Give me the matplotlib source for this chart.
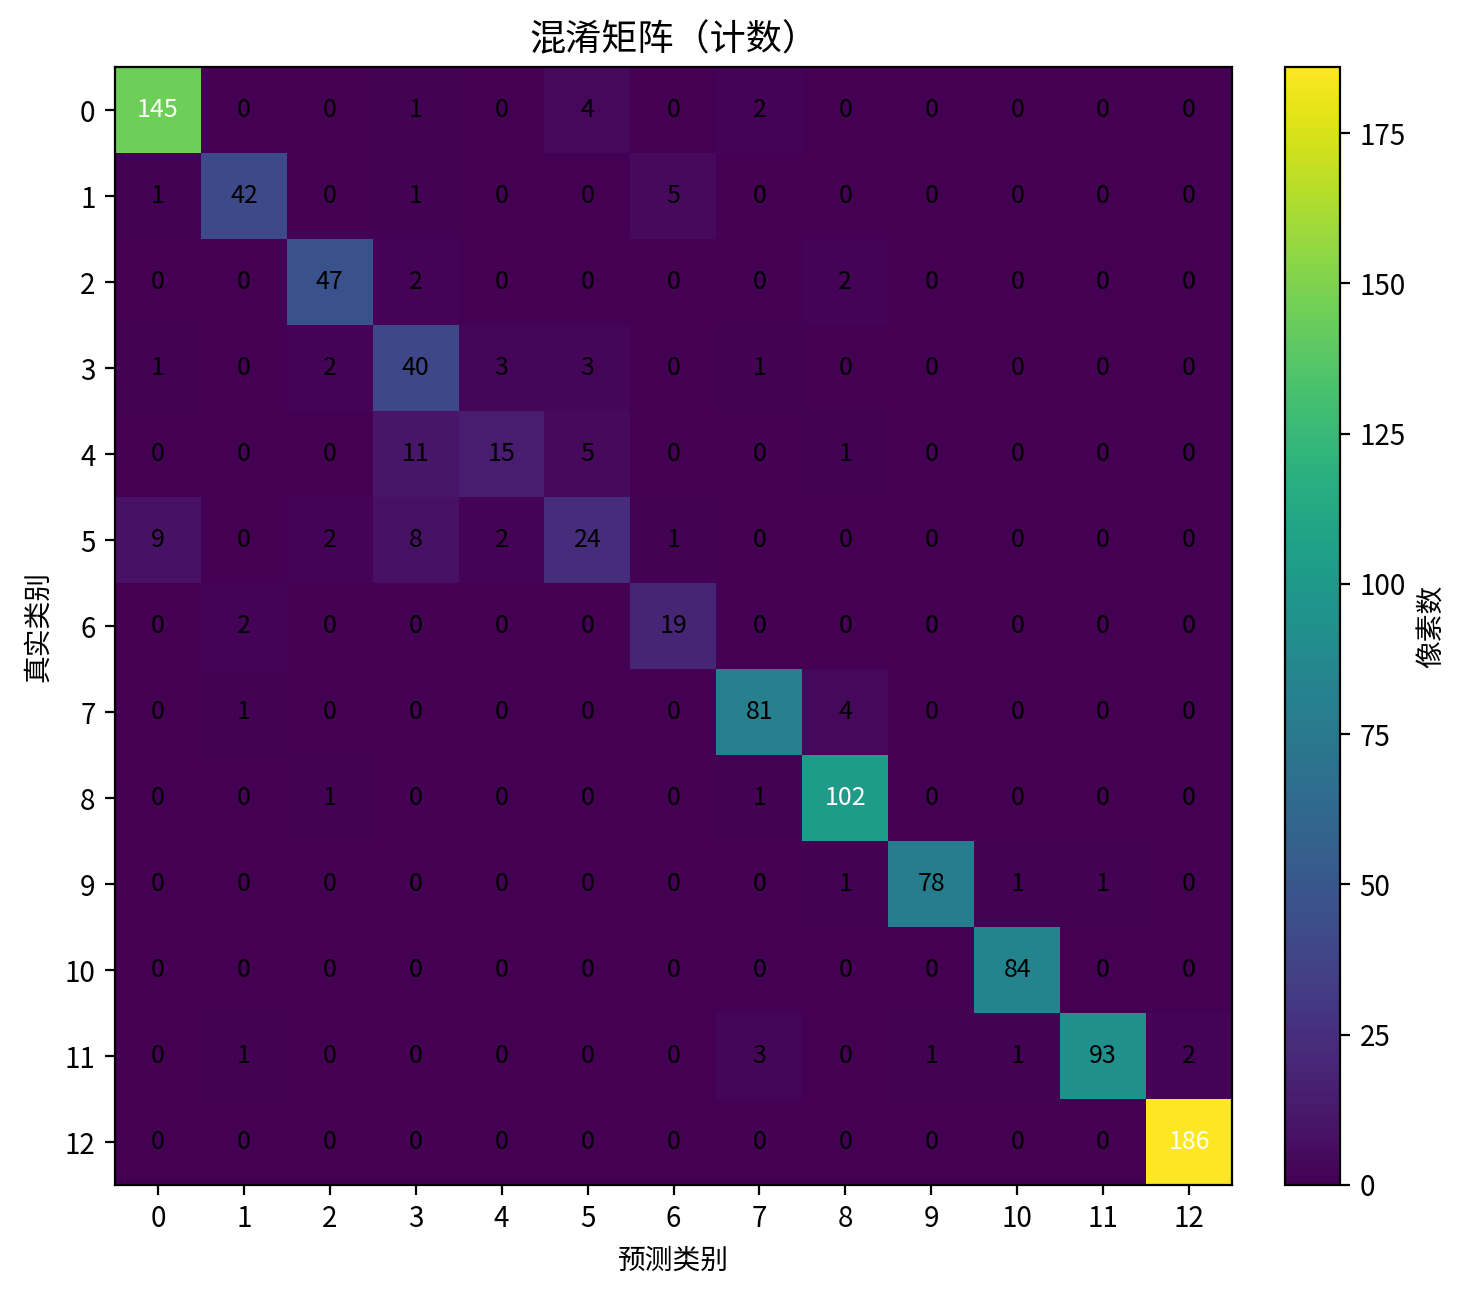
import numpy as np
import matplotlib.pyplot as plt

plt.rcParams['font.family'] = ['Noto Sans CJK SC', 'DejaVu Sans']
plt.rcParams['axes.unicode_minus'] = False

classes = list(range(13))
cm = np.array([
    [145, 0, 0, 1, 0, 4, 0, 2, 0, 0, 0, 0, 0],
    [1, 42, 0, 1, 0, 0, 5, 0, 0, 0, 0, 0, 0],
    [0, 0, 47, 2, 0, 0, 0, 0, 2, 0, 0, 0, 0],
    [1, 0, 2, 40, 3, 3, 0, 1, 0, 0, 0, 0, 0],
    [0, 0, 0, 11, 15, 5, 0, 0, 1, 0, 0, 0, 0],
    [9, 0, 2, 8, 2, 24, 1, 0, 0, 0, 0, 0, 0],
    [0, 2, 0, 0, 0, 0, 19, 0, 0, 0, 0, 0, 0],
    [0, 1, 0, 0, 0, 0, 0, 81, 4, 0, 0, 0, 0],
    [0, 0, 1, 0, 0, 0, 0, 1, 102, 0, 0, 0, 0],
    [0, 0, 0, 0, 0, 0, 0, 0, 1, 78, 1, 1, 0],
    [0, 0, 0, 0, 0, 0, 0, 0, 0, 0, 84, 0, 0],
    [0, 1, 0, 0, 0, 0, 0, 3, 0, 1, 1, 93, 2],
    [0, 0, 0, 0, 0, 0, 0, 0, 0, 0, 0, 0, 186],
])

fig = plt.figure(figsize=(7.355, 6.47), dpi=200)
ax = fig.add_axes([115/1471, 1 - 1185/1294, 1117/1471, 1118/1294])
cax = fig.add_axes([1285/1471, 1 - 1185/1294, 55/1471, 1118/1294])

im = ax.imshow(cm, cmap='viridis', aspect='auto')
cb = fig.colorbar(im, cax=cax)
cb.set_label('像素数')

ax.set_xticks(classes)
ax.set_yticks(classes)
ax.set_xticklabels(classes)
ax.set_yticklabels(classes)
ax.set_xlabel('预测类别')
ax.set_ylabel('真实类别')
ax.set_title('混淆矩阵（计数）', fontsize=13)

thresh = cm.max() / 2
for i in range(cm.shape[0]):
    for j in range(cm.shape[1]):
        ax.text(j, i, str(cm[i, j]), ha='center', va='center', fontsize=9,
                color='white' if cm[i, j] > thresh else 'black')

fig.savefig('out.png', dpi=200)
